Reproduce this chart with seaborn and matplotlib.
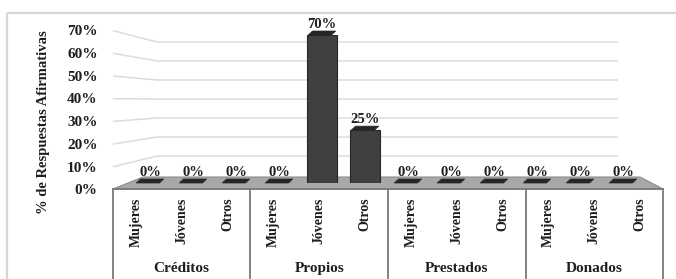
import pandas as pd
import matplotlib
matplotlib.use("Agg")
import matplotlib.pyplot as plt
from matplotlib.patches import Polygon, Rectangle
from matplotlib.ticker import PercentFormatter
import seaborn as sns

# data
grupos = ["Créditos", "Propios", "Prestados", "Donados"]
segmentos = ["Mujeres", "Jóvenes", "Otros"]
valores = [0.00, 0.00, 0.00,
           0.00, 0.70, 0.25,
           0.00, 0.00, 0.00,
           0.00, 0.00, 0.00]
ticks_y = [0.0, 0.1, 0.2, 0.3, 0.4, 0.5, 0.6, 0.7]
etiqueta_y = "% de Respuestas Afirmativas"

df = pd.DataFrame({
    "grupo": [g for g in grupos for s in segmentos],
    "segmento": [s for g in grupos for s in segmentos],
    "valor": valores,
})
df["clave"] = df["grupo"] + "-" + df["segmento"]

sns.set_theme(style="white")
plt.rcParams["font.family"] = ["Liberation Serif", "DejaVu Serif"]
plt.rcParams["font.weight"] = "bold"
txt = "#1e1e1e"

W, H = 676, 279
fig = plt.figure(figsize=(W / 100, H / 100), dpi=100)

def rect(x0, ytop, x1, ybot):
    # pixel box -> figure fraction
    return [x0 / W, (H - ybot) / H, (x1 - x0) / W, (ybot - ytop) / H]

# background in pixel coords: frame, back-wall gridlines, floor
bg = fig.add_axes([0, 0, 1, 1])
bg.set_xlim(0, W)
bg.set_ylim(H, 0)
bg.axis("off")
bg.add_patch(Rectangle((7, 12.5), 720, 320, fill=False, ec="#d6d6d6", lw=1.6))

def y_front(v):
    return 189.5 - v * 227.0

def y_back(v):
    return 175.0 - v * 190.0

for v in ticks_y[1:]:
    bg.plot([113, 157, 618], [y_front(v), y_back(v), y_back(v)],
            color="#dcdcdc", lw=1.1, solid_capstyle="butt")

bg.add_patch(Polygon([(113, 189), (663, 189), (640, 177), (143, 177)],
                     closed=True, fc="#a8a8a8", ec="#8c8c8c", lw=0.8))

# y tick labels
ax_t = fig.add_axes(rect(113, 30, 663, 189.5))
ax_t.set_ylim(0, 0.7)
ax_t.set_xlim(0, 1)
ax_t.set_yticks(ticks_y)
ax_t.yaxis.set_major_formatter(PercentFormatter(1.0, decimals=0))
ax_t.set_xticks([])
ax_t.tick_params(axis="y", length=0, pad=11, labelsize=11, labelcolor=txt)
for lab in ax_t.get_yticklabels():
    lab.set_fontweight("bold")
for s in ax_t.spines.values():
    s.set_visible(False)
ax_t.patch.set_alpha(0)

# bars
ax_b = fig.add_axes(rect(128.5, 35, 644.5, 183))
sns.barplot(data=df, x="clave", y="valor", color="#404040", width=0.7,
            saturation=1, edgecolor="#262626", linewidth=0.8, ax=ax_b)
ax_b.set_xlim(-0.5, 11.5)
ax_b.set_ylim(0, 0.7)
ax_b.axis("off")
ax_b.patch.set_alpha(0)
dy = 4 / (148 / 0.7)
for i, v in enumerate(valores):
    ax_b.add_patch(Polygon([(i - 0.32, v), (i + 0.22, v),
                            (i + 0.32, v + dy), (i - 0.22, v + dy)],
                           closed=True, fc="#262626", ec="#262626", lw=0.5,
                           clip_on=False))
    ax_b.annotate(f"{v:.0%}", (i, v), xytext=(0, 5), textcoords="offset points",
                  ha="center", va="baseline", fontsize=10.5, fontweight="bold",
                  color=txt, annotation_clip=False)

# category table under the floor
ax_c = fig.add_axes(rect(113, 189, 663, 285))
ax_c.set_xlim(-0.5, len(valores) - 0.5)
ax_c.set_ylim(0, 1)
ax_c.set_xticks([])
ax_c.set_yticks([])
ax_c.patch.set_alpha(0)
for side in ["left", "right", "top"]:
    ax_c.spines[side].set_color("#7a7a7a")
    ax_c.spines[side].set_linewidth(1.3)
ax_c.spines["bottom"].set_visible(False)
for k in range(1, len(grupos)):
    ax_c.axvline(k * len(segmentos) - 0.5, color="#7a7a7a", lw=1.3)
for i, seg in enumerate(df["segmento"]):
    ax_c.text(i, 0.91, seg, rotation=90, ha="center", va="top",
              fontsize=10, fontweight="bold", color=txt)
for k, g in enumerate(grupos):
    ax_c.text(k * len(segmentos) + 1, 0.175, g, ha="center", va="center",
              fontsize=11, fontweight="bold", color=txt)

fig.text(43 / W, (H - 122) / H, etiqueta_y, rotation=90, ha="center",
         va="center", fontsize=10.5, fontweight="bold", color=txt)

fig.savefig("out.png", dpi=100)
